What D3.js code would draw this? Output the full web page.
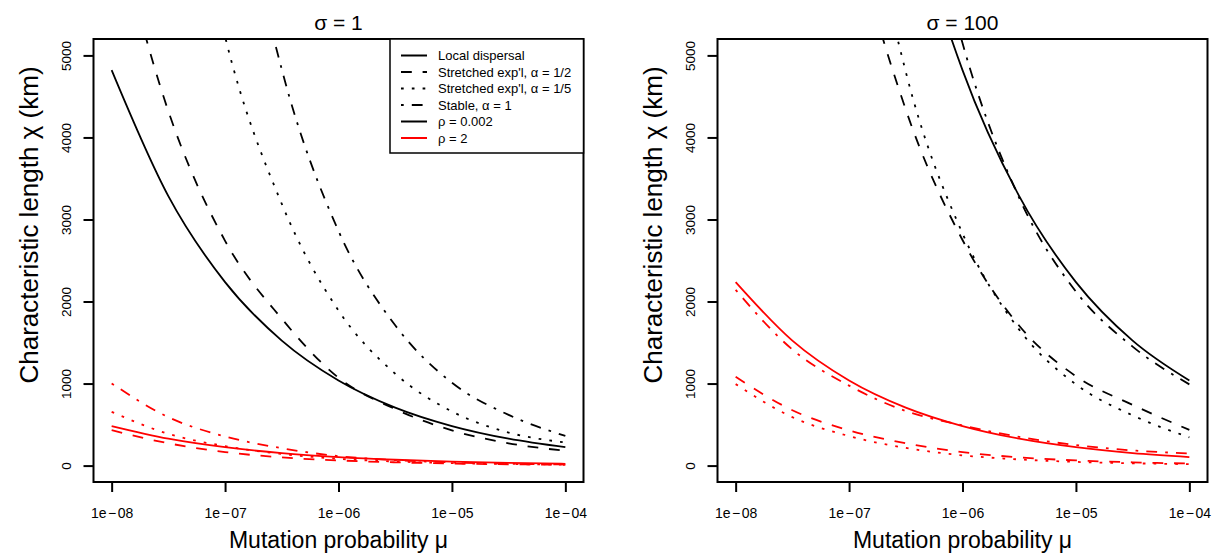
<!DOCTYPE html>
<html><head><meta charset="utf-8">
<script src="https://cdn.jsdelivr.net/npm/d3@7"></script>
<style>
body{margin:0;background:#fff}
svg{display:block}
text{font-family:"Liberation Sans",Arial,Helvetica,sans-serif;fill:#000}
</style>
</head><body>
<svg id="c" width="1212" height="558"></svg>
<script>
// ---- data ----
const mu = [1e-8, 3.162e-8, 1e-7, 3.162e-7, 1e-6, 3.162e-6, 1e-5, 3.162e-5, 1e-4];
const xTicks = [1e-8, 1e-7, 1e-6, 1e-5, 1e-4];
const xTickLabels = ["1e\u221208", "1e\u221207", "1e\u221206", "1e\u221205", "1e\u221204"];
const yTicks = [0, 1000, 2000, 3000, 4000, 5000];
const yTickLabels = ["0", "1000", "2000", "3000", "4000", "5000"];
const panelTitles = ["\u03c3 = 1", "\u03c3 = 100"];
const xTitle = "Mutation probability \u03bc";
const yTitle = "Characteristic length \u03c7 (km)";
const kernels = ["Local dispersal", "Stretched exp'l, \u03b1 = 1/2", "Stretched exp'l, \u03b1 = 1/5", "Stable, \u03b1 = 1"];
const densities = ["\u03c1 = 0.002", "\u03c1 = 2"];

// sigma = 1, rho = 0.002
const s1_local_lo   = [4820, 3284, 2237, 1524, 1038, 707, 482, 328, 224];
const s1_str12_lo   = [6800, 4320, 2740, 1790, 1071, 689, 429, 272, 180];
const s1_str15_lo   = [14700, 8800, 5230, 3190, 1890, 1120, 660, 403, 282];
const s1_stable_lo  = [22840, 13610, 8105, 4830, 2860, 1710, 1010, 618, 362];
// sigma = 1, rho = 2
const s1_local_hi   = [482, 328, 224, 152, 104, 71, 48, 33, 22];
const s1_str12_hi   = [431, 272, 165, 100, 63, 40, 25, 16, 10];
const s1_str15_hi   = [655, 387, 237, 142, 83, 50, 30, 19, 12];
const s1_stable_hi  = [1002, 590, 355, 212, 115, 67, 39, 23, 14];
// sigma = 100, rho = 0.002
const s100_local_lo  = [22370, 15240, 10380, 7075, 4820, 3284, 2237, 1524, 1038];
const s100_str12_lo  = [16700, 10650, 6800, 4340, 2750, 1705, 1090, 740, 435];
const s100_str15_lo  = [24000, 14200, 8250, 4800, 2830, 1657, 990, 612, 345];
const s100_stable_lo = [32300, 20400, 12900, 8160, 5150, 3262, 2121, 1450, 990];
// sigma = 100, rho = 2
const s100_local_hi  = [2237, 1524, 1038, 707, 482, 328, 224, 152, 104];
const s100_str12_hi  = [1082, 675, 430, 272, 165, 100, 63, 40, 25];
const s100_str15_hi  = [993, 590, 360, 215, 125, 75, 45, 28, 18];
const s100_stable_hi = [2142, 1415, 975, 665, 490, 350, 250, 185, 148];

// ---- styles ----
const U = 2.7;
const dashStyles = [null, `${4*U},${4*U}`, `${U},${3*U}`, `${U},${3*U},${4*U},${3*U}`];
const colors = ["#000000", "#ff0000"];

const panels = [
  {x0: 93.5, x1: 583.5, title: panelTitles[0],
   series: [s1_local_lo, s1_str12_lo, s1_str15_lo, s1_stable_lo, s1_local_hi, s1_str12_hi, s1_str15_hi, s1_stable_hi], legend: true},
  {x0: 717.5, x1: 1207.5, title: panelTitles[1],
   series: [s100_local_lo, s100_str12_lo, s100_str15_lo, s100_stable_lo, s100_local_hi, s100_str12_hi, s100_str15_hi, s100_stable_hi], legend: false}
];

const svg = d3.select("#c");
const plotTop = 39, plotBottom = 482;

panels.forEach((p, pi) => {
  const x = d3.scaleLog().domain([Math.pow(10, -8.16), Math.pow(10, -3.84)]).range([p.x0, p.x1]);
  const y = d3.scaleLinear().domain([-200, 5200]).range([plotBottom, plotTop]);
  const g = svg.append("g");
  const cid = "clip" + pi;
  svg.append("clipPath").attr("id", cid).append("rect")
    .attr("x", p.x0).attr("y", plotTop).attr("width", p.x1 - p.x0).attr("height", plotBottom - plotTop);

  const line = d3.line().x(d => x(d[0])).y(d => y(d[1])).curve(d3.curveMonotoneX);
  const lg = g.append("g").attr("clip-path", `url(#${cid})`);
  p.series.forEach((vals, si) => {
    const kind = si % 4, col = colors[Math.floor(si / 4)];
    lg.append("path")
      .attr("d", line(mu.map((m, i) => [m, vals[i]])))
      .attr("fill", "none").attr("stroke", col).attr("stroke-width", 1.8)
      .attr("stroke-dasharray", dashStyles[kind]);
  });

  // box
  g.append("rect").attr("x", p.x0).attr("y", plotTop).attr("width", p.x1 - p.x0).attr("height", plotBottom - plotTop)
    .attr("fill", "none").attr("stroke", "#000").attr("stroke-width", 2);

  // x axis
  const xa = g.append("g").attr("transform", `translate(0,${plotBottom})`)
    .call(d3.axisBottom(x).tickValues(xTicks).tickSize(10).tickFormat((d, i) => xTickLabels[i]));
  xa.select(".domain").remove();
  xa.selectAll("line").attr("stroke", "#000").attr("stroke-width", 2);
  xa.selectAll("text").attr("y", 35.5).attr("dy", 0).attr("font-size", 14)
    .style("font-family", '"Liberation Sans",Arial,sans-serif')
    .each(function(d, i) {
      const parts = xTickLabels[i].split("\u2212");
      const t = d3.select(this).text(null);
      t.append("tspan").text(parts[0]);
      t.append("tspan").attr("dx", 1.5).text("\u2212");
      t.append("tspan").attr("dx", 1.5).text(parts[1]);
    });

  // y axis
  const ya = g.append("g").attr("transform", `translate(${p.x0},0)`)
    .call(d3.axisLeft(y).tickValues(yTicks).tickSize(10).tickFormat((d, i) => yTickLabels[i]));
  ya.select(".domain").remove();
  ya.selectAll("line").attr("stroke", "#000").attr("stroke-width", 2);
  ya.selectAll("text").attr("x", 0).attr("dy", 0).attr("text-anchor", "middle")
    .attr("transform", "translate(-23,0) rotate(-90)").attr("font-size", 13.5)
    .style("font-family", '"Liberation Sans",Arial,sans-serif');

  // titles
  g.append("text").attr("x", (p.x0 + p.x1) / 2).attr("y", 30).attr("text-anchor", "middle")
    .attr("font-size", 21).text(p.title);
  g.append("text").attr("x", (p.x0 + p.x1) / 2).attr("y", 548).attr("text-anchor", "middle")
    .attr("font-size", 23).text(xTitle);
  g.append("text").attr("transform", `translate(${p.x0 - 56},225) rotate(-90)`).attr("text-anchor", "middle")
    .attr("font-size", 26).text(yTitle);

  if (p.legend) {
    const lx0 = 390, lx1 = p.x1, ly1 = 153;
    g.append("rect").attr("x", lx0).attr("y", plotTop).attr("width", lx1 - lx0).attr("height", ly1 - plotTop)
      .attr("fill", "#fff").attr("stroke", "#000").attr("stroke-width", 1.5);
    const items = [
      {t: kernels[0], d: dashStyles[0], c: colors[0]},
      {t: kernels[1], d: dashStyles[1], c: colors[0]},
      {t: kernels[2], d: dashStyles[2], c: colors[0]},
      {t: kernels[3], d: dashStyles[3], c: colors[0]},
      {t: densities[0], d: null, c: colors[0]},
      {t: densities[1], d: null, c: colors[1]}
    ];
    items.forEach((it, i) => {
      const yy = 55.5 + i * 16.5;
      g.append("line").attr("x1", 401).attr("x2", 427).attr("y1", yy).attr("y2", yy)
        .attr("stroke", it.c).attr("stroke-width", 2).attr("stroke-dasharray", it.d);
      g.append("text").attr("x", 438).attr("y", yy + 4.7).attr("font-size", 13).text(it.t);
    });
  }
});
</script>
</body></html>
